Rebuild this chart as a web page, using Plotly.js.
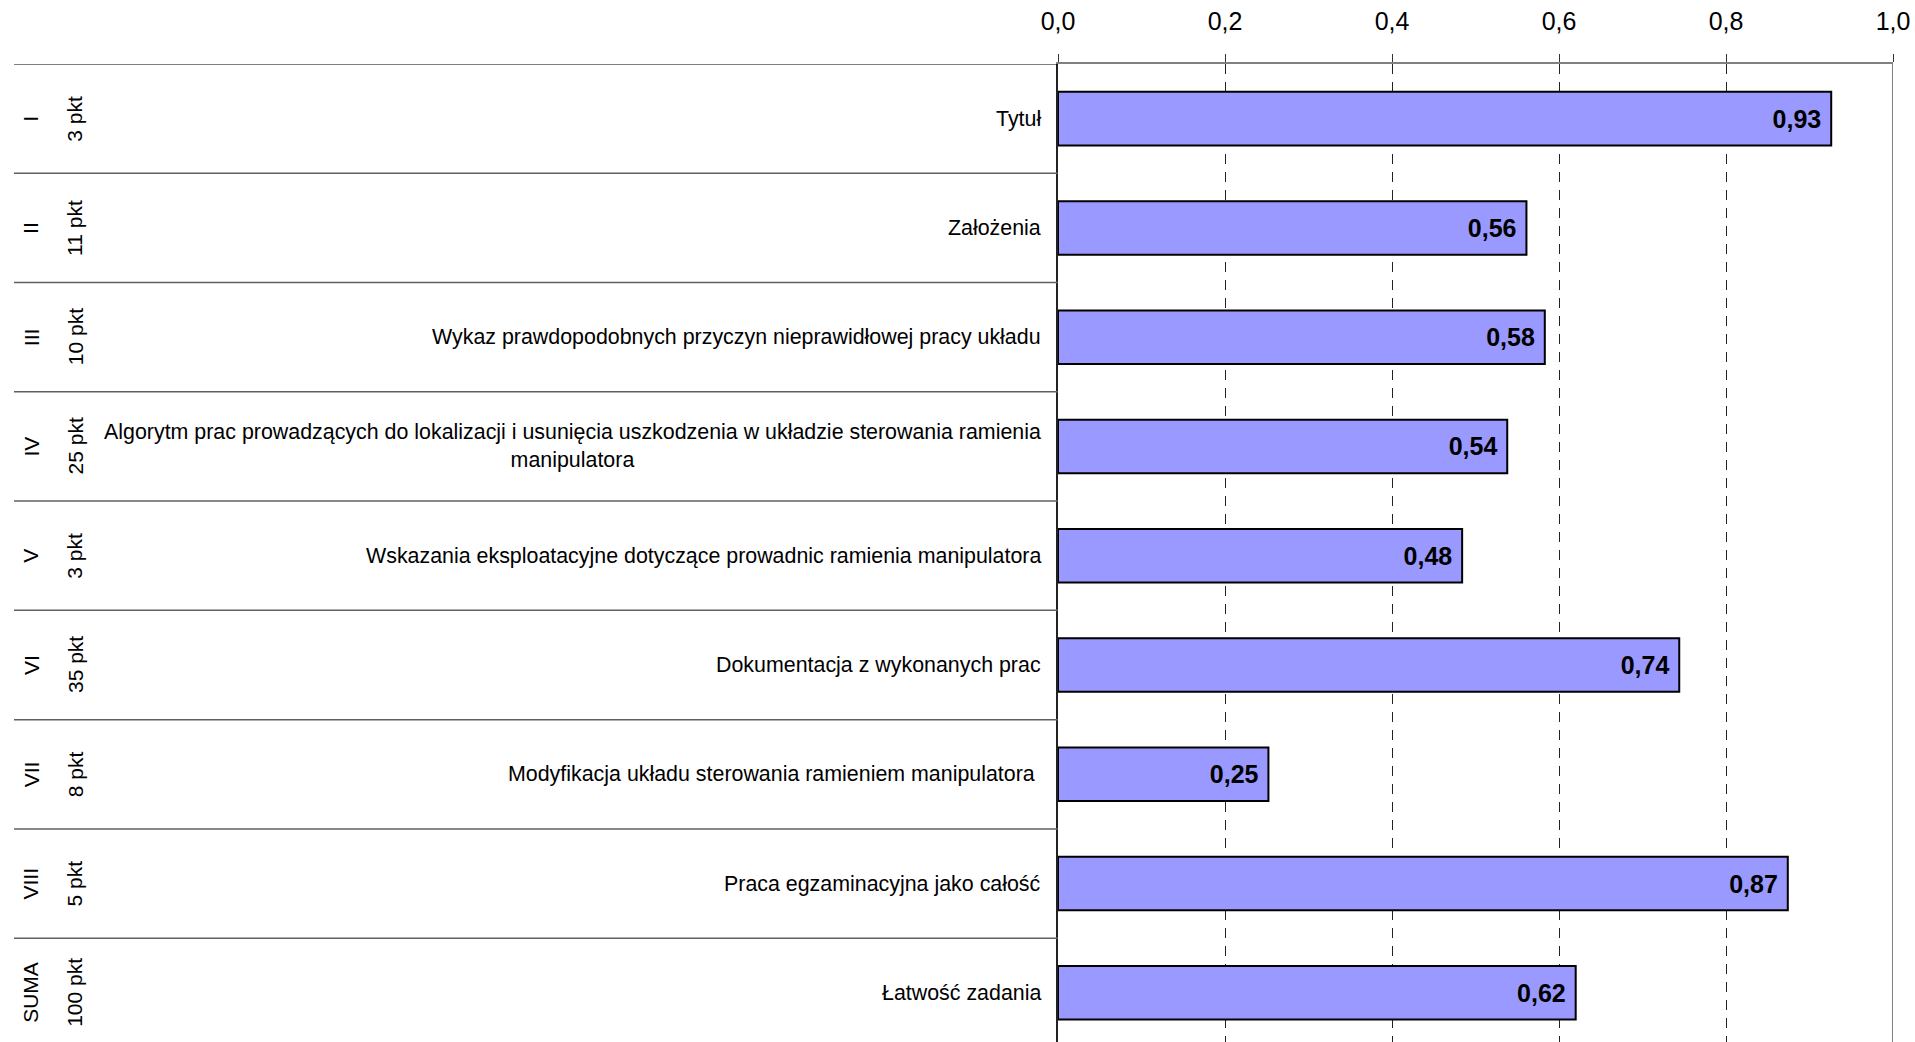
<!DOCTYPE html>
<html>
<head>
<meta charset="utf-8">
<script src="https://cdn.plot.ly/plotly-3.0.1.min.js"></script>
<style>
  html, body { margin: 0; padding: 0; background: #fff; overflow: hidden; }
  #chart { width: 1915px; height: 1042px; }
</style>
</head>
<body>
<div id="chart"></div>
<script>
// ---- data ----
const romans = ['I', 'II', 'III', 'IV', 'V', 'VI', 'VII', 'VIII', 'SUMA'];
const points = ['3 pkt', '11 pkt', '10 pkt', '25 pkt', '3 pkt', '35 pkt', '8 pkt', '5 pkt', '100 pkt'];
const descriptions = [
  'Tytuł',
  'Założenia',
  'Wykaz prawdopodobnych przyczyn nieprawidłowej pracy układu',
  'Algorytm prac prowadzących do lokalizacji i usunięcia uszkodzenia w układzie sterowania ramienia<br>manipulatora',
  'Wskazania eksploatacyjne dotyczące prowadnic ramienia manipulatora',
  'Dokumentacja z wykonanych prac',
  'Modyfikacja układu sterowania ramieniem manipulatora\u00a0',
  'Praca egzaminacyjna jako całość',
  'Łatwość zadania'
];
const values = [0.926, 0.561, 0.583, 0.538, 0.484, 0.744, 0.252, 0.874, 0.620];
const xTicks = [0, 0.2, 0.4, 0.6, 0.8, 1.0];

// ---- build ----
const FONT = '"Liberation Sans", Arial, sans-serif';
const rowIdx = romans.map((_, i) => i);

const trace = {
  type: 'bar',
  orientation: 'h',
  x: values,
  y: rowIdx,
  width: 0.49,
  marker: { color: '#9999FF', line: { color: '#000000', width: 2 } },
  texttemplate: '%{x:.2f}\u00a0',
  textposition: 'inside',
  insidetextanchor: 'end',
  textangle: 0,
  constraintext: 'none',
  textfont: { family: FONT, size: 25, color: '#000000', weight: 'bold' },
  hoverinfo: 'skip',
  cliponaxis: false
};

const annotations = [];
const shapes = [];
rowIdx.forEach(i => {
  annotations.push({
    xref: 'paper', yref: 'y', x: (31 - 1058) / 835, y: i,
    text: romans[i], textangle: -90, showarrow: false,
    xanchor: 'center', yanchor: 'middle',
    font: { family: FONT, size: 21, color: '#000' }
  });
  annotations.push({
    xref: 'paper', yref: 'y', x: (75 - 1058) / 835, y: i,
    text: points[i], textangle: -90, showarrow: false,
    xanchor: 'center', yanchor: 'middle',
    font: { family: FONT, size: 21, color: '#000' }
  });
  annotations.push({
    xref: 'x', yref: 'y', x: 0, xshift: -15, y: i,
    text: descriptions[i], showarrow: false,
    xanchor: 'right', yanchor: 'middle', align: 'center',
    font: { family: FONT, size: 21.4, color: '#000' }
  });
  // row separator lines to the left of the axis
  shapes.push({
    type: 'line', xref: 'paper', yref: 'y',
    x0: (14 - 1058) / 835, x1: 0, y0: i - 0.5, y1: i - 0.5,
    line: { color: i === 0 ? '#000000' : '#606060', width: i === 0 ? 1 : 1.5 }
  });
});
// right border of plot area
shapes.push({
  type: 'line', xref: 'x', yref: 'paper', x0: 1, x1: 1, y0: 0, y1: 1,
  line: { color: '#808080', width: 2 }
});

const layout = {
  width: 1915,
  height: 1042,
  margin: { l: 1058, r: 22, t: 64, b: 0, pad: 0 },
  paper_bgcolor: '#ffffff',
  plot_bgcolor: '#ffffff',
  separators: ', ',
  showlegend: false,
  font: { family: FONT, color: '#000' },
  xaxis: {
    side: 'top',
    range: [0, 1],
    autorange: false,
    tickvals: xTicks,
    tickformat: '.1f',
    ticks: 'outside',
    ticklen: 8,
    tickwidth: 1,
    tickcolor: '#333333',
    ticklabelstandoff: 14,
    tickfont: { family: FONT, size: 25, color: '#000' },
    showgrid: true,
    gridcolor: '#222222',
    gridwidth: 1,
    griddash: '10px,8px',
    showline: true,
    linecolor: '#808080',
    linewidth: 2,
    zeroline: false,
    automargin: false,
    fixedrange: true
  },
  yaxis: {
    range: [8.45, -0.5],
    autorange: false,
    showticklabels: false,
    ticks: '',
    showgrid: false,
    zeroline: false,
    showline: true,
    linecolor: '#222222',
    linewidth: 2,
    automargin: false,
    fixedrange: true
  },
  annotations: annotations,
  shapes: shapes,
  bargap: 0.5
};

Plotly.newPlot('chart', [trace], layout, { displayModeBar: false, staticPlot: true });
</script>
</body>
</html>
